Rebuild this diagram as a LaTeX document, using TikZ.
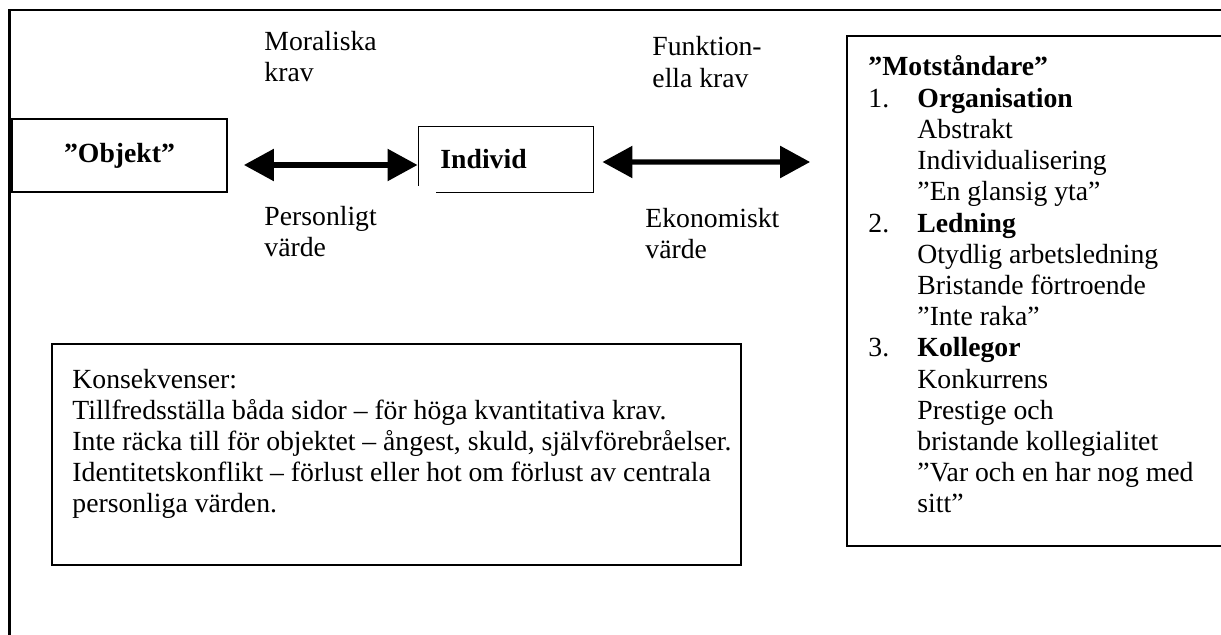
\documentclass[tikz,border=0pt]{standalone}
\usepackage{fontspec}
\setmainfont{Liberation Serif}
\usetikzlibrary{arrows.meta,calc}
\begin{document}
\begin{tikzpicture}[x=0.4333pt,y=-0.4333pt,
  box/.style={draw,line width=0.75pt,inner sep=0},
  txt/.style={anchor=base west,inner sep=0,font=\fontsize{12}{13.5}\selectfont},
  dbl/.style={line width=2.2pt,{Triangle[length=13pt,width=13.5pt]}-{Triangle[length=13pt,width=13.5pt]}}
]
\useasboundingbox (0,0) rectangle (1221,635);
\clip (0,0) rectangle (1221,635);
% outer frame
\draw[line width=1pt] (9.5,650) -- (9.5,10) -- (1240,10);

% boxes
\node[box,minimum width=93.2pt,minimum height=31.6pt,font=\fontsize{12}{13.5}\selectfont\bfseries] (objekt) at (119.5,155.5) {”Objekt”};
\node[inner sep=0,minimum width=75.4pt,minimum height=28.2pt] (individ) at (506,159.5) {};
\draw[line width=0.75pt] ($(individ.south west)+(0,-7)$) -- (individ.north west) -- (individ.north east) -- (individ.south east) -- ($(individ.south west)+(17,0)$);
\node[txt,font=\fontsize{12}{13.5}\selectfont\bfseries] (individtxt) at (440,168) {Individ};
\node[box,minimum width=170.3pt,minimum height=221pt] (motst) at (1043.5,291) {};
\node[box,minimum width=298.5pt,minimum height=95.8pt] (konsek) at (396.5,454.5) {};

% arrows
\draw[dbl] ($(objekt.east)+(16,9.5)$) -- ($(individ.west)+(-1,5.5)$);
\draw[dbl] ($(individ.east)+(9,2.5)$) -- ($(motst.west)+(-36,-129)$);

% arrow labels
\node[txt] (mor1) at (264,50) {Moraliska};
\node[txt] (mor2) at (264,81.5) {krav};
\node[txt] (per1) at (264,225) {Personligt};
\node[txt] (per2) at (264,256) {värde};
\node[txt] (fun1) at (652,55) {Funktion-};
\node[txt] (fun2) at (652,87) {ella krav};
\node[txt] (eko1) at (645,227) {Ekonomiskt};
\node[txt] (eko2) at (645,258) {värde};

% Motstandare list
\def\ml#1{76+31.2*#1}
\node[txt,font=\fontsize{12}{13.5}\selectfont\bfseries] (m0) at (868,{\ml{0}}) {”Motståndare”};
\node[txt] (n1) at (868,{\ml{1}}) {1.};
\node[txt,font=\fontsize{12}{13.5}\selectfont\bfseries] (m1) at (917,{\ml{1}}) {Organisation};
\node[txt] (m2) at (917,{\ml{2}}) {Abstrakt};
\node[txt] (m3) at (917,{\ml{3}}) {Individualisering};
\node[txt] (m4) at (917,{\ml{4}}) {”En glansig yta”};
\node[txt] (n2) at (868,{\ml{5}}) {2.};
\node[txt,font=\fontsize{12}{13.5}\selectfont\bfseries] (m5) at (917,{\ml{5}}) {Ledning};
\node[txt] (m6) at (917,{\ml{6}}) {Otydlig arbetsledning};
\node[txt] (m7) at (917,{\ml{7}}) {Bristande förtroende};
\node[txt] (m8) at (917,{\ml{8}}) {”Inte raka”};
\node[txt] (n3) at (868,{\ml{9}}) {3.};
\node[txt,font=\fontsize{12}{13.5}\selectfont\bfseries] (m9) at (917,{\ml{9}}) {Kollegor};
\node[txt] (m10) at (917,{\ml{10}}) {Konkurrens};
\node[txt] (m11) at (917,{\ml{11}}) {Prestige och};
\node[txt] (m12) at (917,{\ml{12}}) {bristande kollegialitet};
\node[txt] (m13) at (917,{\ml{13}}) {”Var och en har nog med};
\node[txt] (m14) at (917,{\ml{14}}) {sitt”};

% Konsekvenser
\def\kl#1{388+31.2*#1}
\node[txt] (k0) at (72,{\kl{0}}) {Konsekvenser:};
\node[txt] (k1) at (72,{\kl{1}}) {Tillfredsställa båda sidor – för höga kvantitativa krav.};
\node[txt] (k2) at (72,{\kl{2}}) {Inte räcka till för objektet – ångest, skuld, självförebråelser.};
\node[txt] (k3) at (72,{\kl{3}}) {Identitetskonflikt – förlust eller hot om förlust av centrala};
\node[txt] (k4) at (72,{\kl{4}}) {personliga värden.};
\end{tikzpicture}
\end{document}
